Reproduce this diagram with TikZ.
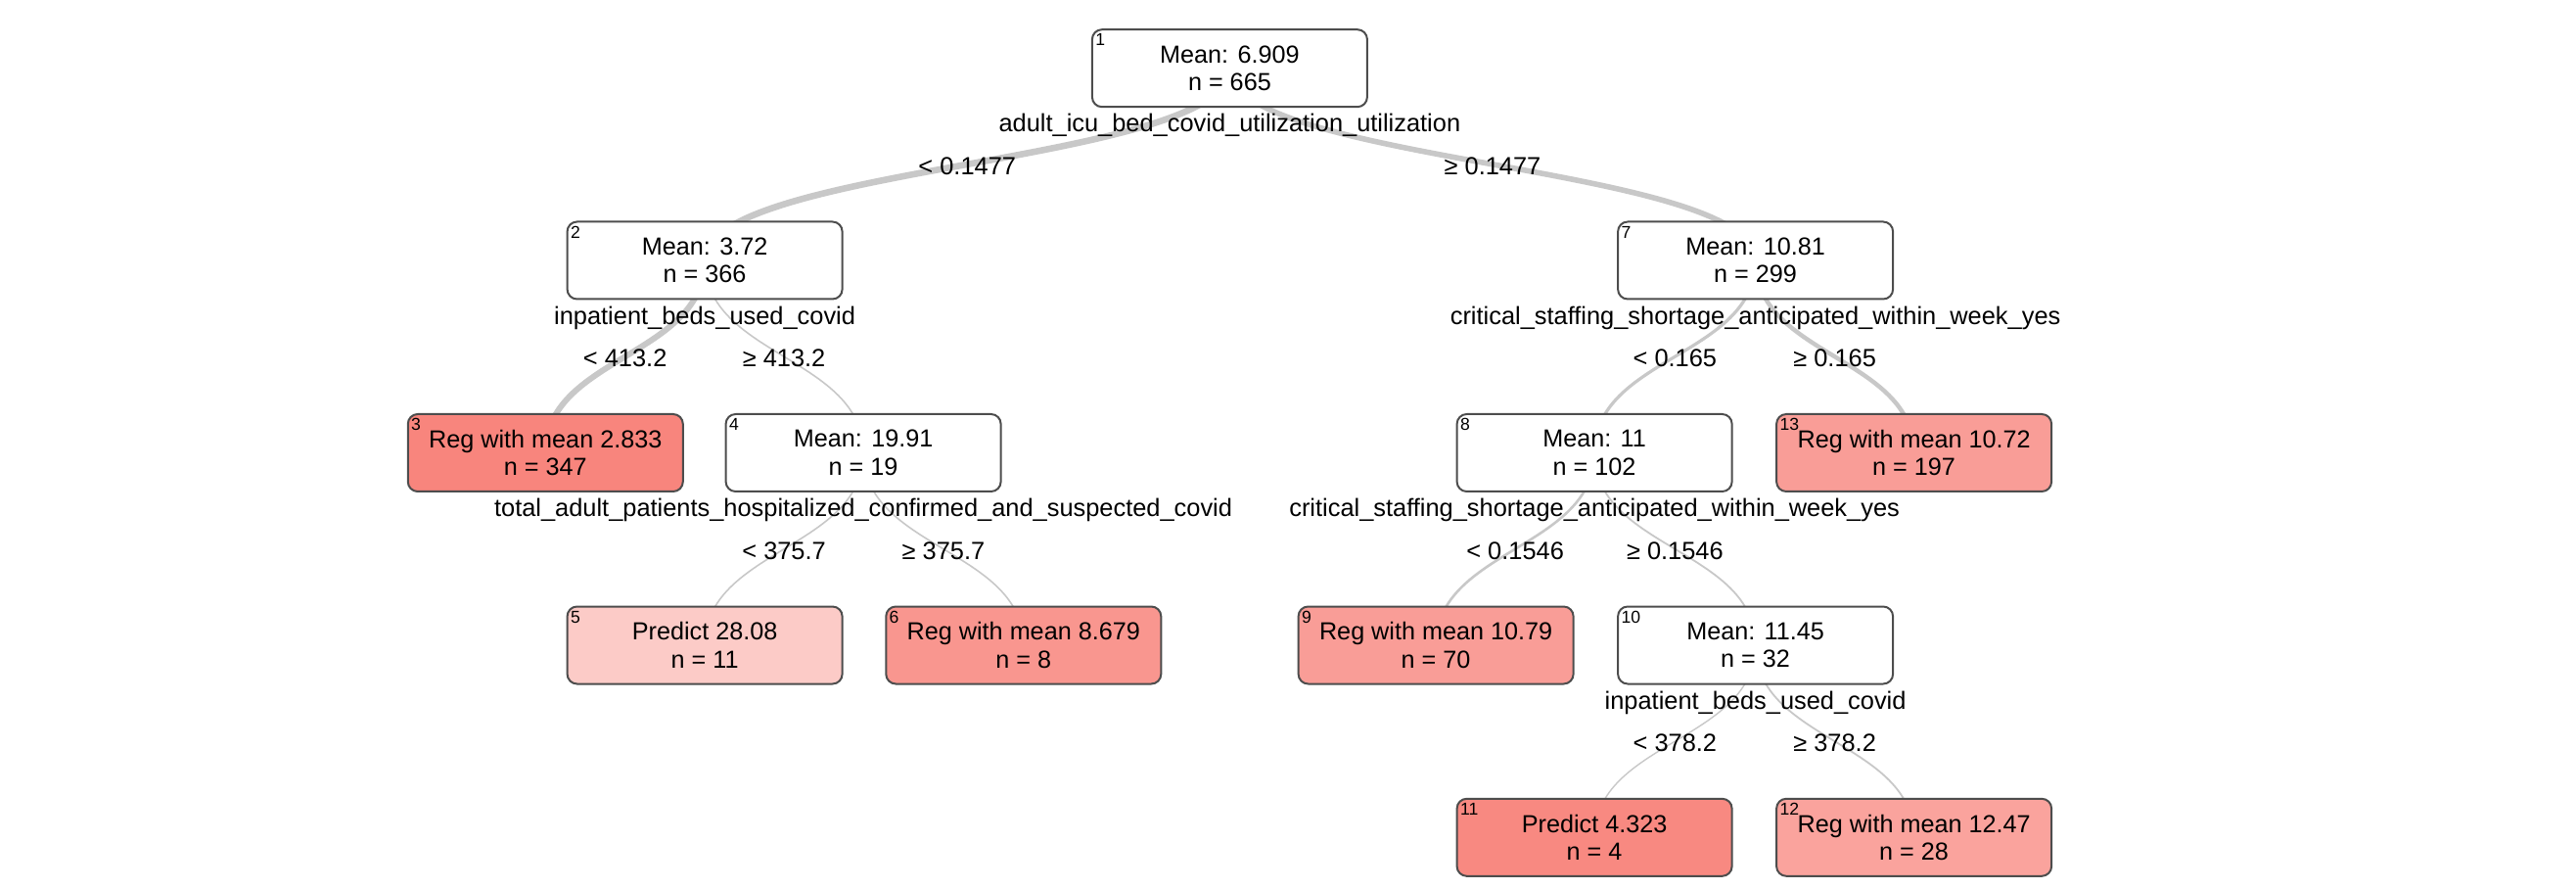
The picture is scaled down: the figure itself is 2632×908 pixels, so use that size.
\documentclass[tikz,border=0pt]{standalone}
\usepackage{fontspec}
\setmainfont{Liberation Sans}
\usetikzlibrary{calc,backgrounds}
\definecolor{edgegray}{HTML}{C8C8C8}
\definecolor{boxline}{HTML}{4D4D4D}
\definecolor{leafA}{HTML}{F8857D}
\definecolor{leafB}{HTML}{F88981}
\definecolor{leafC}{HTML}{F9968F}
\definecolor{leafD}{HTML}{F99D97}
\definecolor{leafE}{HTML}{FAA39D}
\definecolor{leafF}{HTML}{FCCBC7}
\begin{document}
\begin{tikzpicture}[x=0.5pt,y=-0.5pt,
  tnode/.style={draw=boxline, line width=1pt, rounded corners=5pt, fill=white,
    minimum width=140.5pt, minimum height=39.5pt, inner sep=0pt, align=center,
    font=\fontsize{12.6}{14.3}\selectfont},
  idx/.style={anchor=north west, inner sep=0pt, font=\fontsize{8.8}{9}\selectfont},
  split/.style={inner sep=0pt, font=\fontsize{12.7}{14}\selectfont},
  cond/.style={inner sep=0pt, font=\fontsize{12.7}{14}\selectfont},
  edge/.style={draw=edgegray},
]
\useasboundingbox (0,0) rectangle (2632,908);

% tree nodes (centres in pixel units, y growing downwards)
\node[tnode] (n1) at (1256.4,69.7) {Mean: 6.909\\n = 665};
\node[tnode] (n2) at (720.1,266) {Mean: 3.72\\n = 366};
\node[tnode] (n7) at (1793.6,266) {Mean: 10.81\\n = 299};
\node[tnode, fill=leafA] (n3) at (557.3,462.5) {Reg with mean 2.833\\n = 347};
\node[tnode] (n4) at (882.1,462.5) {Mean: 19.91\\n = 19};
\node[tnode] (n8) at (1629.1,462.5) {Mean: 11\\n = 102};
\node[tnode, fill=leafD] (n13) at (1955.6,462.5) {Reg with mean 10.72\\n = 197};
\node[tnode, fill=leafF] (n5) at (720.1,659) {Predict 28.08\\n = 11};
\node[tnode, fill=leafC] (n6) at (1045.8,659) {Reg with mean 8.679\\n = 8};
\node[tnode, fill=leafD] (n9) at (1467.1,659) {Reg with mean 10.79\\n = 70};
\node[tnode] (n10) at (1793.6,659) {Mean: 11.45\\n = 32};
\node[tnode, fill=leafB] (n11) at (1629.1,855.3) {Predict 4.323\\n = 4};
\node[tnode, fill=leafE] (n12) at (1955.6,855.3) {Reg with mean 12.47\\n = 28};

% node numbers in the top-left corners
\foreach \n/\t in {n1/1,n2/2,n3/3,n4/4,n5/5,n6/6,n7/7,n8/8,n9/9,n10/10,n11/11,n12/12,n13/13}
  \node[idx] (\n-id) at ([xshift=2pt,yshift=-2.5pt]\n.north west) {\t};

% split variables under the inner nodes
\node[split] (s1) at ([yshift=-9pt]n1.south) {adult\_icu\_bed\_covid\_utilization\_utilization};
\node[split] (s2) at ([yshift=-9pt]n2.south) {inpatient\_beds\_used\_covid};
\node[split] (s7) at ([yshift=-9pt]n7.south) {critical\_staffing\_shortage\_anticipated\_within\_week\_yes};
\node[split] (s4) at ([yshift=-9pt]n4.south) {total\_adult\_patients\_hospitalized\_confirmed\_and\_suspected\_covid};
\node[split] (s8) at ([yshift=-9pt]n8.south) {critical\_staffing\_shortage\_anticipated\_within\_week\_yes};
\node[split] (s10) at ([yshift=-9pt]n10.south) {inpatient\_beds\_used\_covid};

% curved branches, width following the number of observations
\begin{pgfonlayer}{background}
\foreach \a/\b/\w in {n1/n2/3.3pt, n1/n7/2.8pt, n2/n3/3.0pt, n2/n4/0.8pt,
    n7/n8/1.6pt, n7/n13/2.2pt, n4/n5/0.8pt, n4/n6/0.8pt, n8/n9/1.3pt,
    n8/n10/0.9pt, n10/n11/0.7pt, n10/n12/0.9pt} {
  \coordinate (m) at ($(\a.center)!0.5!(\b.center)$);
  \draw[edge, line width=\w] (\a.center) .. controls (\a.center |- m) and (\b.center |- m) .. (\b.center);
}
\end{pgfonlayer}

% branch conditions at the middle of each branch
\node[cond] (c12) at ($(n1.center)!0.5!(n2.center)+(0,2)$) {< 0.1477};
\node[cond] (c17) at ($(n1.center)!0.5!(n7.center)+(0,2)$) {≥ 0.1477};
\node[cond] (c23) at ($(n2.center)!0.5!(n3.center)+(0,2)$) {< 413.2};
\node[cond] (c24) at ($(n2.center)!0.5!(n4.center)+(0,2)$) {≥ 413.2};
\node[cond] (c78) at ($(n7.center)!0.5!(n8.center)+(0,2)$) {< 0.165};
\node[cond] (c713) at ($(n7.center)!0.5!(n13.center)+(0,2)$) {≥ 0.165};
\node[cond] (c45) at ($(n4.center)!0.5!(n5.center)+(0,2)$) {< 375.7};
\node[cond] (c46) at ($(n4.center)!0.5!(n6.center)+(0,2)$) {≥ 375.7};
\node[cond] (c89) at ($(n8.center)!0.5!(n9.center)+(0,2)$) {< 0.1546};
\node[cond] (c810) at ($(n8.center)!0.5!(n10.center)+(0,2)$) {≥ 0.1546};
\node[cond] (c1011) at ($(n10.center)!0.5!(n11.center)+(0,2)$) {< 378.2};
\node[cond] (c1012) at ($(n10.center)!0.5!(n12.center)+(0,2)$) {≥ 378.2};
\end{tikzpicture}
\end{document}
